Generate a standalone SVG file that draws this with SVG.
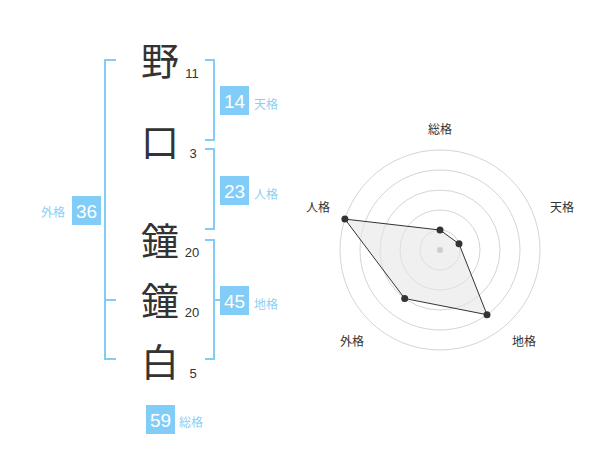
<svg xmlns="http://www.w3.org/2000/svg" width="600" height="470" viewBox="0 0 600 470">
<style>
.kj{font-family:"Noto Sans CJK JP","Noto Sans CJK SC",sans-serif;font-size:38px;fill:#333;text-anchor:middle}
.st{font-family:"Liberation Sans",Arial,sans-serif;font-size:13px;fill:#333;text-anchor:middle}
.bx{fill:#82ccf8}
.bn{font-family:"Liberation Sans",Arial,sans-serif;font-size:19px;fill:#fff;text-anchor:middle}
.bl{font-family:"Noto Sans CJK JP",sans-serif;font-size:12px;fill:#8ccff5}
.br{fill:none;stroke:#82ccf8;stroke-width:2}
.ring{fill:none;stroke:#d4d4d4;stroke-width:1}
.rl{font-family:"Noto Sans CJK JP",sans-serif;font-size:12px;fill:#333;text-anchor:middle}
.pt{fill:#333}
</style>
<rect width="600" height="470" fill="#fff"/>
<g id="connectors">
<path class="br" d="M116,60 H105 V359 H116 M105,300 H116"/>
<path class="br" d="M205,60 H214 V140 H205"/>
<path class="br" d="M205,149 H214 V229 H205"/>
<path class="br" d="M205,240 H214 V359 H205 M214,300 H220"/>
</g>
<g id="char1"><text class="kj" x="160" y="74.5">野</text><text class="st" x="192" y="78">11</text></g>
<g id="char2"><text class="kj" x="160" y="155.5">口</text><text class="st" x="193" y="158">3</text></g>
<g id="char3"><text class="kj" x="160" y="254.5">鐘</text><text class="st" x="192" y="257">20</text></g>
<g id="char4"><text class="kj" x="160" y="314.5">鐘</text><text class="st" x="192" y="317">20</text></g>
<g id="char5"><text class="kj" x="160" y="375.5">白</text><text class="st" x="193" y="378">5</text></g>
<g id="tenkaku"><rect class="bx" x="220" y="86" width="29" height="29"/><text class="bn" x="234.5" y="107.5">14</text><text class="bl" x="254" y="109">天格</text></g>
<g id="jinkaku"><rect class="bx" x="220" y="176" width="29" height="29"/><text class="bn" x="234.5" y="197.5">23</text><text class="bl" x="254" y="199">人格</text></g>
<g id="chikaku"><rect class="bx" x="220" y="286" width="29" height="29"/><text class="bn" x="234.5" y="307.5">45</text><text class="bl" x="254" y="309">地格</text></g>
<g id="gaikaku"><rect class="bx" x="72" y="196" width="29" height="29"/><text class="bn" x="86.5" y="217.5">36</text><text class="bl" x="41" y="217">外格</text></g>
<g id="soukaku"><rect class="bx" x="146" y="405" width="29" height="29"/><text class="bn" x="160.5" y="426.5">59</text><text class="bl" x="179" y="427">総格</text></g>
<g id="radar">
<circle class="ring" cx="440" cy="250" r="20"/>
<circle class="ring" cx="440" cy="250" r="40"/>
<circle class="ring" cx="440" cy="250" r="60"/>
<circle class="ring" cx="440" cy="250" r="80"/>
<circle class="ring" cx="440" cy="250" r="100"/>
<polygon points="440,230 459,243.8 487,314.7 404.7,298.5 344.9,219.1" fill="#e6e6e6" fill-opacity="0.6" stroke="#333" stroke-width="1"/>
<circle cx="440" cy="250" r="3" fill="#ccc"/>
<circle class="pt" cx="440" cy="230" r="3.5"/>
<circle class="pt" cx="459" cy="243.8" r="3.5"/>
<circle class="pt" cx="487" cy="314.7" r="3.5"/>
<circle class="pt" cx="404.7" cy="298.5" r="3.5"/>
<circle class="pt" cx="344.9" cy="219.1" r="3.5"/>
<text class="rl" x="440" y="134">総格</text>
<text class="rl" x="562" y="212">天格</text>
<text class="rl" x="318" y="212">人格</text>
<text class="rl" x="352" y="346">外格</text>
<text class="rl" x="524" y="346">地格</text>
</g>
</svg>
